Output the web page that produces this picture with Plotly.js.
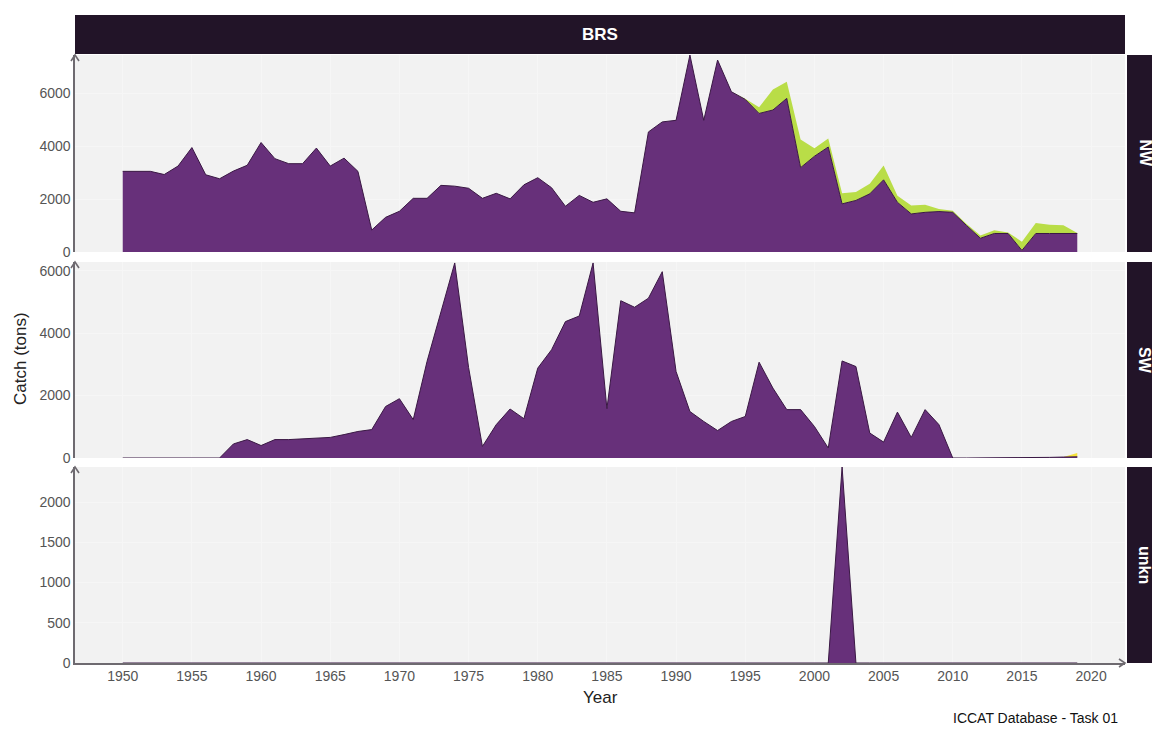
<!DOCTYPE html>
<html>
<head>
<meta charset="utf-8">
<script src="https://cdn.plot.ly/plotly-3.0.1.min.js"></script>
<style>html,body{margin:0;padding:0;background:#fff;}#chart{width:1152px;height:729px;}</style>
</head>
<body>
<div id="chart"></div>
<script>
// ---- data ----
const years = [1950,1951,1952,1953,1954,1955,1956,1957,1958,1959,
  1960,1961,1962,1963,1964,1965,1966,1967,1968,1969,
  1970,1971,1972,1973,1974,1975,1976,1977,1978,1979,
  1980,1981,1982,1983,1984,1985,1986,1987,1988,1989,
  1990,1991,1992,1993,1994,1995,1996,1997,1998,1999,
  2000,2001,2002,2003,2004,2005,2006,2007,2008,2009,
  2010,2011,2012,2013,2014,2015,2016,2017,2018,2019];

// NW : main catch (purple) and second component (green)
const nwMain = [3050,3050,3050,2930,3250,3950,2920,2770,3060,3280,
  4140,3530,3340,3340,3930,3250,3550,3050,830,1310,
  1540,2030,2030,2520,2490,2410,2030,2220,2010,2540,
  2810,2430,1730,2140,1880,2010,1540,1480,4540,4920,
  4980,7450,4980,7260,6060,5770,5240,5370,5810,3190,
  3620,3970,1820,1950,2200,2730,1880,1440,1500,1530,
  1500,1000,520,700,700,60,700,700,700,700];
const nwSecond = [0,0,0,0,0,0,0,0,0,0,
  0,0,0,0,0,0,0,0,0,0,
  0,0,0,0,0,0,0,0,0,0,
  0,0,0,0,0,0,0,0,0,0,
  0,0,0,0,0,30,230,780,630,1060,
  300,320,400,320,380,540,250,320,290,100,
  60,60,100,120,40,330,400,330,310,20];

// SW : main catch (purple) and third component (yellow)
const swMain = [0,0,0,0,0,0,0,0,450,590,
  400,590,590,610,640,660,750,850,910,1650,
  1900,1230,3100,4650,6250,2900,370,1070,1570,1260,
  2880,3470,4370,4550,6250,1580,5040,4830,5120,5970,
  2770,1490,1170,880,1170,1330,3070,2240,1550,1550,
  1010,320,3110,2930,800,510,1470,660,1550,1070,
  0,0,0,0,0,0,10,20,30,40];
const swThird = [0,0,0,0,0,0,0,0,0,0,
  0,0,0,0,0,0,0,0,0,0,
  0,0,0,0,0,0,0,0,0,0,
  0,0,0,0,0,0,0,0,0,0,
  0,0,0,0,0,0,0,0,0,0,
  0,0,0,0,0,0,0,0,0,0,
  0,0,0,0,0,0,0,0,0,120];

// unkn : main catch (purple)
const unMain = [0,0,0,0,0,0,0,0,0,0,
  0,0,0,0,0,0,0,0,0,0,
  0,0,0,0,0,0,0,0,0,0,
  0,0,0,0,0,0,0,0,0,0,
  0,0,0,0,0,0,0,0,0,0,
  0,0,2435,0,0,0,0,0,0,0,
  0,0,0,0,0,0,0,0,0,0];

const panelNames = ["NW","SW","unkn"];
const stripTitle = "BRS";
const yTitle = "Catch (tons)";
const xTitle = "Year";
const caption = "ICCAT Database - Task 01";

// ---- style ----
const cPurple = "#67307A", cPurpleLine = "#3A1844";
const cGreen = "#B9DD47", cYellow = "#F5E13A";
const stripCol = "#221428";
const bg = "#F2F2F2";
const axisCol = "#6E6A70";
const gridCol = "#F6F6F6";
const font = "Liberation Sans, Arial, sans-serif";

function area(y, yaxis, group, fillc, lw, lc){
  return {x: years, y: y, yaxis: yaxis, xaxis: "x", type: "scatter", mode: "lines",
    stackgroup: group, fillcolor: fillc, line: {color: lc, width: lw, shape: "linear"},
    hoverinfo: "skip", showlegend: false};
}

const traces = [
  area(nwMain, "y", "nw", cPurple, 1, cPurpleLine),
  area(nwSecond, "y", "nw", cGreen, 0, cGreen),
  area(swMain, "y2", "sw", cPurple, 1, cPurpleLine),
  area(swThird, "y2", "sw", cYellow, 0, cYellow),
  area(unMain, "y3", "un", cPurple, 1, cPurpleLine)
];

function maxStack(a, b){ let m = 0; for (let i=0;i<a.length;i++){ const s = a[i] + (b ? b[i] : 0); if (s>m) m=s; } return m; }

// layout in pixels -> paper
const W = 1152, H = 729, mL = 75, mR = 27, mT = 55, mB = 66;
const pw = W - mL - mR, ph = H - mT - mB;
const py = p => (H - mB - p) / ph;  // pixel y -> paper y
const px = p => (p - mL) / pw;      // pixel x -> paper x

const doms = [[py(252), py(55)], [py(458), py(262)], [py(663), py(467)]];

function yax(dom, rng, dtick){
  return {domain: dom, anchor: "x", range: rng, dtick: dtick, tick0: 0,
    showline: true, linecolor: axisCol, linewidth: 1.6, ticks: "", ticklen: 0,
    tickfont: {family: font, size: 14, color: "#555"}, showgrid: true,
    gridcolor: gridCol, gridwidth: 1, zeroline: false, fixedrange: true};
}

const shapes = [];
const annotations = [];

// top strip
shapes.push({type: "rect", xref: "paper", yref: "paper", x0: 0, x1: 1, y0: py(54), y1: py(15),
  fillcolor: stripCol, line: {width: 0}, layer: "above"});
annotations.push({xref: "paper", yref: "paper", x: 0.5, y: py(35), text: "<b>" + stripTitle + "</b>",
  showarrow: false, font: {family: font, size: 17, color: "#fff"}, xanchor: "center", yanchor: "middle"});

// right strips
const stripPix = [[55, 252], [262, 458], [467, 663]];
stripPix.forEach((s, i) => {
  shapes.push({type: "rect", xref: "paper", yref: "paper", x0: px(1127), x1: px(1160), y0: py(s[1]), y1: py(s[0]),
    fillcolor: stripCol, line: {width: 0}, layer: "above"});
  annotations.push({xref: "paper", yref: "paper", x: px(1145), y: py((s[0] + s[1]) / 2), text: "<b>" + panelNames[i] + "</b>",
    textangle: 90, showarrow: false, font: {family: font, size: 16, color: "#fff"}, xanchor: "center", yanchor: "middle"});
  const t = s[0];
  shapes.push({type: "path", xref: "paper", yref: "paper",
    path: `M ${px(71)} ${py(t + 6)} L ${px(75)} ${py(t)} L ${px(79)} ${py(t + 6)}`,
    line: {color: axisCol, width: 1.6}, layer: "above"});
});
// arrow on x axis right
shapes.push({type: "path", xref: "paper", yref: "paper",
  path: `M ${px(1119)} ${py(659)} L ${px(1125)} ${py(663)} L ${px(1119)} ${py(667)}`,
  line: {color: axisCol, width: 1.6}, layer: "above"});

// axis titles & caption
annotations.push({xref: "paper", yref: "paper", x: px(20), y: py(359), text: yTitle, textangle: -90,
  showarrow: false, font: {family: font, size: 17, color: "#222"}, xanchor: "center", yanchor: "middle"});
annotations.push({xref: "paper", yref: "paper", x: px(600), y: py(697), text: xTitle,
  showarrow: false, font: {family: font, size: 17, color: "#222"}, xanchor: "center", yanchor: "middle"});
annotations.push({xref: "paper", yref: "paper", x: px(1120), y: py(718), text: caption,
  showarrow: false, font: {family: font, size: 14, color: "#111"}, xanchor: "right", yanchor: "middle"});

const layout = {
  width: W, height: H,
  margin: {l: mL, r: mR, t: mT, b: mB, pad: 0},
  paper_bgcolor: "#fff", plot_bgcolor: bg,
  showlegend: false, hovermode: false,
  xaxis: {anchor: "y3", range: [1946.55, 2022.45], tick0: 1950, dtick: 5,
    showline: true, linecolor: axisCol, linewidth: 1.6, ticks: "", ticklen: 0,
    tickfont: {family: font, size: 14, color: "#555"}, showgrid: true,
    gridcolor: gridCol, gridwidth: 1, zeroline: false, fixedrange: true},
  yaxis: yax(doms[0], [0, maxStack(nwMain, nwSecond)], 2000),
  yaxis2: yax(doms[1], [0, maxStack(swMain, swThird) + 30], 2000),
  yaxis3: yax(doms[2], [0, maxStack(unMain)], 500),
  shapes: shapes,
  annotations: annotations
};

Plotly.newPlot("chart", traces, layout, {displayModeBar: false, staticPlot: true});
</script>
</body>
</html>
